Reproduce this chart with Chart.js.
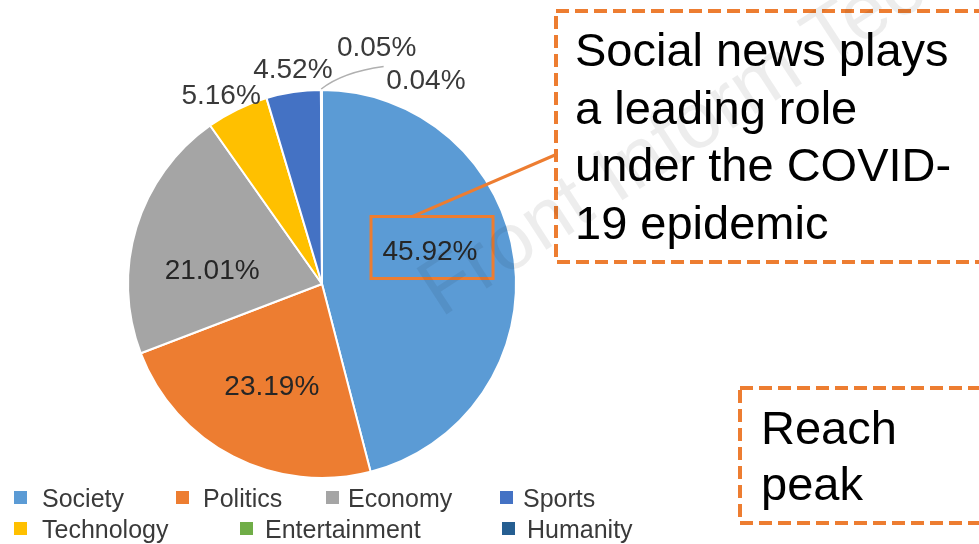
<!DOCTYPE html>
<html>
<head>
<meta charset="utf-8">
<title>News categories</title>
<script src="https://cdn.jsdelivr.net/npm/chart.js@4.4.1/dist/chart.umd.min.js"></script>
<style>
  html, body { margin: 0; padding: 0; background: #fff; }
  canvas { display: block; }
</style>
</head>
<body>
<canvas id="newsPie" width="979" height="544"></canvas>
<script>
// slices run clockwise from 12 o'clock in this order
const categories = ['Society', 'Politics', 'Economy', 'Technology', 'Sports', 'Entertainment', 'Humanity'];
const shares = [45.92, 23.19, 21.01, 5.16, 4.52, 0.05, 0.04];
const sliceColors = ['#5B9BD5', '#ED7D31', '#A5A5A5', '#FFC000', '#4472C4', '#70AD47', '#255E91'];

// the legend lists the categories in a different order
const legendOrder = ['Society', 'Politics', 'Economy', 'Sports', 'Technology', 'Entertainment', 'Humanity'];

const calloutLines = ['Social news plays', 'a leading role', 'under the COVID-', '19 epidemic'];
const peakLines = ['Reach', 'peak'];
const watermark = 'Front Inform Technol Electron Eng';

// percent label placement: [degrees off the slice middle, distance as fraction of radius]
const labelSpots = [[-9, 0.58], [-1.3, 0.59], [-10.4, 0.57], [-2.3, 1.10], [0.7, 1.11], [13.3, 1.246], [27.2, 1.174]];
// legend entries: [box x, text x, baseline]
const legendSpots = [[14, 42, 507], [176, 203, 507], [326, 348, 507], [500, 523, 507],
                     [14, 42, 538], [240, 265, 538], [502, 527, 538]];

const FONT = '"Liberation Sans", Arial, sans-serif';
const ORANGE = '#ED7D31';

const labelPos = [];

const percentLabels = {
  id: 'percentLabels',
  afterDatasetsDraw(chart) {
    const ctx = chart.ctx;
    const arcs = chart.getDatasetMeta(0).data;
    ctx.save();
    ctx.font = '28px ' + FONT;
    ctx.textAlign = 'center';
    ctx.textBaseline = 'middle';
    arcs.forEach((arc, i) => {
      const p = arc.getProps(['x', 'y', 'startAngle', 'endAngle', 'outerRadius'], true);
      const [shift, dist] = labelSpots[i];
      const mid = (p.startAngle + p.endAngle) / 2;
      const a = mid + shift * Math.PI / 180;
      const lx = p.x + Math.cos(a) * p.outerRadius * dist;
      const ly = p.y + Math.sin(a) * p.outerRadius * dist;
      labelPos[i] = { lx, ly, ex: p.x + Math.cos(mid) * p.outerRadius, ey: p.y + Math.sin(mid) * p.outerRadius };
      ctx.fillStyle = dist < 1 ? '#262626' : '#3a3a3a';
      ctx.fillText(shares[i].toFixed(2) + '%', lx, ly);
    });

    // leader from the two thin slices up to the 0.05% label
    const e = labelPos[5];
    ctx.strokeStyle = '#b0b0b0';
    ctx.lineWidth = 1.5;
    ctx.beginPath();
    ctx.moveTo(e.ex, e.ey - 1);
    ctx.quadraticCurveTo(e.ex + 22, e.ey - 18, e.lx + 7, e.ly + 18);
    ctx.stroke();
    ctx.restore();
  }
};

const annotations = {
  id: 'annotations',
  afterDraw(chart) {
    const ctx = chart.ctx;
    ctx.save();

    // legend
    ctx.font = '25px ' + FONT;
    ctx.textBaseline = 'alphabetic';
    ctx.textAlign = 'left';
    legendOrder.forEach((name, i) => {
      const [bx, tx, base] = legendSpots[i];
      ctx.fillStyle = sliceColors[categories.indexOf(name)];
      ctx.fillRect(bx, base - 16, 13, 13);
      ctx.fillStyle = '#3a3a3a';
      ctx.fillText(name, tx, base);
    });

    // box around the leading share and its connector
    const s = labelPos[0];
    ctx.strokeStyle = ORANGE;
    ctx.lineWidth = 3;
    ctx.strokeRect(s.lx - 59, s.ly - 36, 122, 62);
    ctx.beginPath();
    ctx.moveTo(s.lx - 18, s.ly - 36);
    ctx.lineTo(555, 155);
    ctx.stroke();

    // dashed call-out boxes
    ctx.lineWidth = 4;
    ctx.lineJoin = 'round';
    ctx.setLineDash([13, 6]);
    ctx.strokeRect(556, 11, 480, 251);
    ctx.strokeRect(740, 388, 300, 135);
    ctx.setLineDash([]);

    ctx.fillStyle = '#000';
    ctx.font = '47px ' + FONT;
    calloutLines.forEach((t, i) => ctx.fillText(t, 575, 66 + i * 57.5));
    peakLines.forEach((t, i) => ctx.fillText(t, 761, 444 + i * 56));

    // faint journal watermark
    ctx.translate(441, 318);
    ctx.rotate(-33 * Math.PI / 180);
    ctx.font = '80px ' + FONT;
    ctx.fillStyle = 'rgba(0, 0, 0, 0.07)';
    ctx.fillText(watermark, 0, 0);
    ctx.restore();
  }
};

new Chart(document.getElementById('newsPie'), {
  type: 'pie',
  data: {
    labels: categories,
    datasets: [{
      data: shares,
      backgroundColor: sliceColors,
      borderColor: '#ffffff',
      borderWidth: 2
    }]
  },
  options: {
    responsive: false,
    animation: false,
    layout: { padding: { left: 127, right: 462, top: 89, bottom: 65 } },
    plugins: {
      legend: { display: false },
      tooltip: { enabled: false }
    }
  },
  plugins: [percentLabels, annotations]
});
</script>
</body>
</html>
